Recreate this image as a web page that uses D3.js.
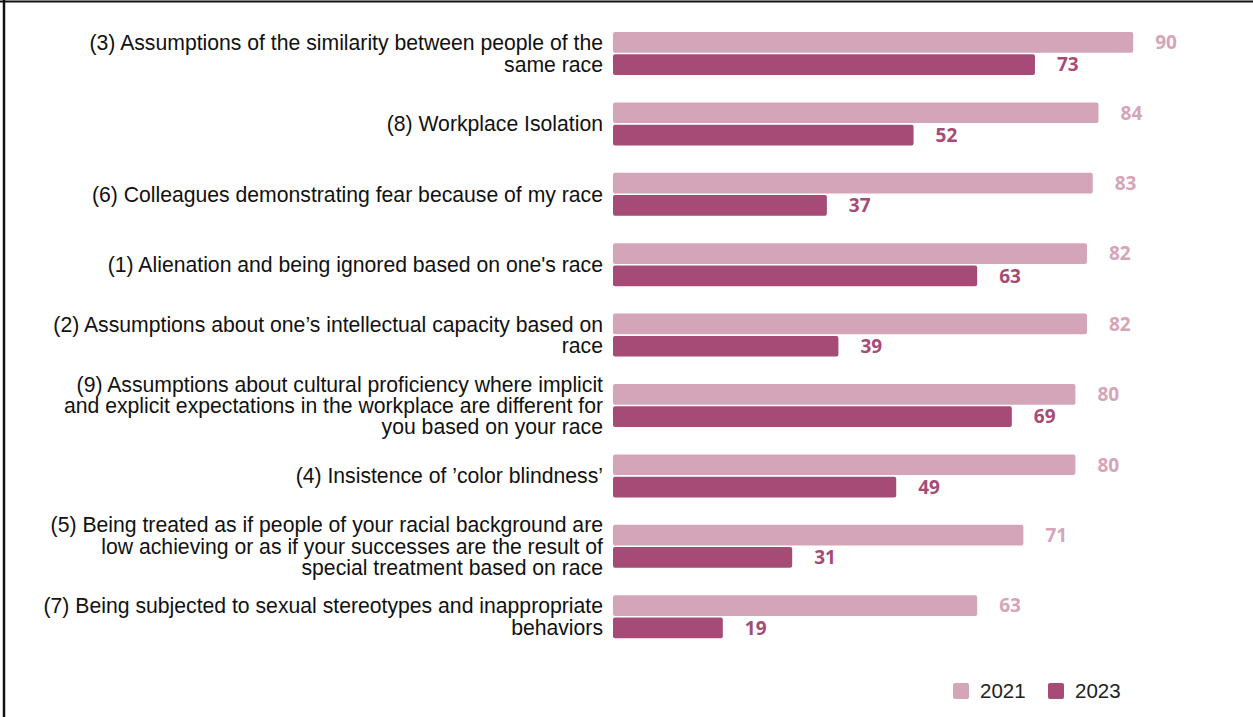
<!DOCTYPE html>
<html>
<head>
<meta charset="utf-8">
<script src="https://cdn.jsdelivr.net/npm/d3@7"></script>
<style>
  html, body { margin: 0; padding: 0; background: #fff; }
  svg { display: block; }
</style>
</head>
<body>
<svg id="chart" width="1253" height="717"></svg>
<script>
// Experiences reported, 2021 vs 2023 (percent)
const categories = [
  ["(3) Assumptions of the similarity between people of the", "same race"],
  ["(8) Workplace Isolation"],
  ["(6) Colleagues demonstrating fear because of my race"],
  ["(1) Alienation and being ignored based on one's race"],
  ["(2) Assumptions about one\u2019s intellectual capacity based on", "race"],
  ["(9) Assumptions about cultural proficiency where implicit", "and explicit expectations in the workplace are different for", "you based on your race"],
  ["(4) Insistence of \u2019color blindness\u2019"],
  ["(5) Being treated as if people of your racial background are", "low achieving or as if your successes are the result of", "special treatment based on race"],
  ["(7) Being subjected to sexual stereotypes and inappropriate", "behaviors"]
];
const values2021 = [90, 84, 83, 82, 82, 80, 80, 71, 63];
const values2023 = [73, 52, 37, 63, 39, 69, 49, 31, 19];
const seriesNames = ["2021", "2023"];
const seriesColors = ["#d4a5b9", "#a54b76"];

const svg = d3.select("#chart");

// frame lines along the top and left edges
svg.append("line").attr("x1", 0).attr("x2", 1253).attr("y1", 1.5).attr("y2", 1.5)
  .attr("stroke", "#111").attr("stroke-width", 2);
svg.append("line").attr("x1", 4).attr("x2", 4).attr("y1", 0).attr("y2", 717)
  .attr("stroke", "#111").attr("stroke-width", 2.5);

const keys = categories.map((c, i) => "c" + i);

const x = d3.scaleLinear().domain([0, 100]).range([613, 1191]);
const y0 = d3.scaleBand().domain(keys).range([32, 638.2]).paddingInner(0.389).paddingOuter(0);
const y1 = d3.scaleBand().domain(seriesNames).range([0, y0.bandwidth()]).paddingInner(0.07);
const color = d3.scaleOrdinal().domain(seriesNames).range(seriesColors);

const rows = keys.map((k, i) => ({
  key: k,
  label: categories[i],
  vals: [
    { s: "2021", v: values2021[i] },
    { s: "2023", v: values2023[i] }
  ]
}));

const g = svg.selectAll("g.row").data(rows).join("g")
  .attr("class", "row")
  .attr("transform", d => `translate(0,${y0(d.key)})`);

// category labels, right-aligned next to the bars
g.append("text")
  .attr("x", 603)
  .attr("text-anchor", "end")
  .attr("font-family", "'Liberation Sans', Arial, sans-serif")
  .attr("font-size", 21.2)
  .attr("fill", "#111")
  .each(function (d) {
    const n = d.label.length;
    const lh = 21.4;
    const mid = y0.bandwidth() / 2;
    d3.select(this).selectAll("tspan").data(d.label).join("tspan")
      .attr("x", 603)
      .attr("y", (t, j) => mid + (j - (n - 1) / 2) * lh)
      .attr("dy", "0.35em")
      .text(t => t);
  });

// bars
g.selectAll("rect").data(d => d.vals).join("rect")
  .attr("x", x(0))
  .attr("y", d => y1(d.s))
  .attr("width", d => x(d.v) - x(0))
  .attr("height", y1.bandwidth())
  .attr("rx", 2)
  .attr("fill", d => color(d.s));

// value labels
g.selectAll("text.val").data(d => d.vals).join("text")
  .attr("class", "val")
  .attr("x", d => x(d.v) + 22)
  .attr("y", d => y1(d.s) + y1.bandwidth() / 2)
  .attr("dy", "0.36em")
  .attr("font-family", "'Open Sans', sans-serif")
  .attr("font-weight", 700)
  .attr("font-size", 19)
  .attr("fill", d => color(d.s))
  .text(d => d.v);

// legend
const legend = svg.append("g").attr("transform", "translate(953,683)");
const li = legend.selectAll("g").data(seriesNames).join("g")
  .attr("transform", (d, i) => `translate(${i * 95},0)`);
li.append("rect").attr("width", 16).attr("height", 16).attr("rx", 2)
  .attr("fill", d => color(d));
li.append("text").attr("x", 27).attr("y", 8).attr("dy", "0.36em")
  .attr("font-family", "'Liberation Sans', Arial, sans-serif")
  .attr("font-size", 20.5).attr("fill", "#222")
  .text(d => d);
</script>
</body>
</html>
